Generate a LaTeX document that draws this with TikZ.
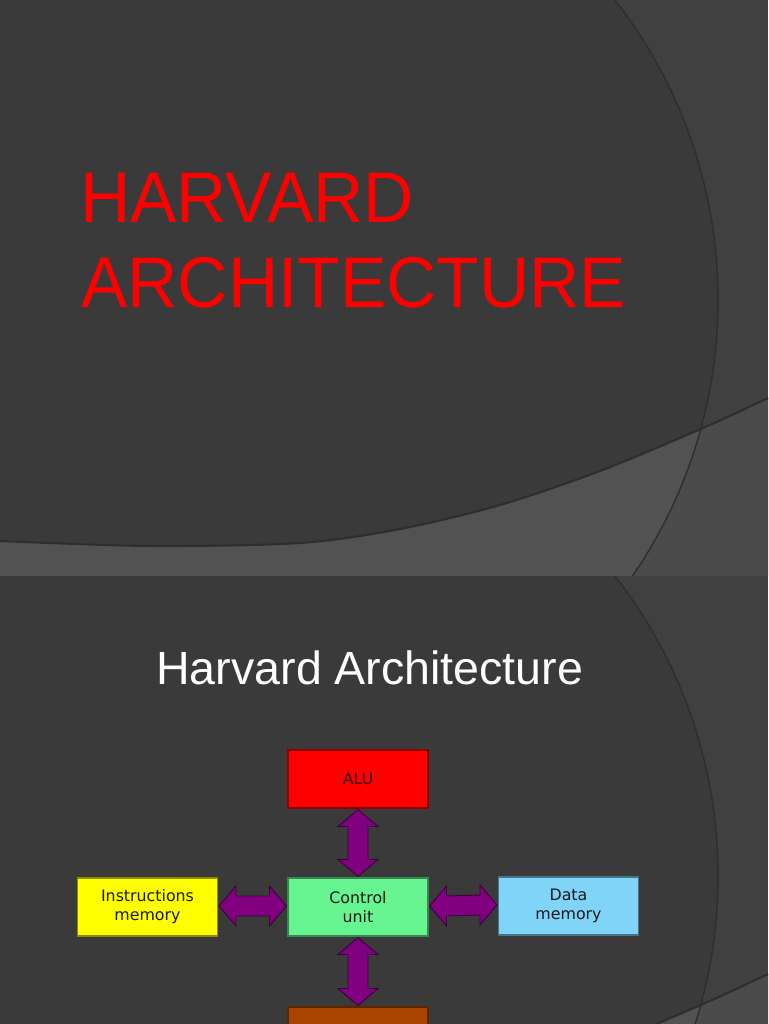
\documentclass[tikz,border=0pt]{standalone}
\usepackage{fontspec}
\setmainfont{Liberation Sans}
\newfontfamily\titlefont[FakeStretch=0.97]{Liberation Sans}
\newfontfamily\boxfont{DejaVu Sans}
\usetikzlibrary{calc}

\definecolor{slidebg}{HTML}{3A3A3A}
\definecolor{slideside}{HTML}{404040}
\definecolor{bandleft}{HTML}{525252}
\definecolor{bandright}{HTML}{4B4B4B}
\definecolor{edgedark}{HTML}{2E2E2E}
\definecolor{alured}{HTML}{FF0000}
\definecolor{ctrlgreen}{HTML}{66F590}
\definecolor{instryellow}{HTML}{FFFF00}
\definecolor{datablue}{HTML}{80D4F8}
\definecolor{iobrown}{HTML}{A84400}
\definecolor{buspurple}{HTML}{800080}

% lower edge of the light band on each slide
\newcommand{\bandpts}{(0,541) (150,546) (300,543) (400,529) (500,505) (600,471) (703,428) (768,398)}

\tikzset{
  unitbox/.style={rectangle, draw=#1!55!black, line width=0.6pt, fill=#1,
    minimum width=2.8cm, minimum height=1.16cm, inner sep=0pt, align=center,
    font=\boxfont\fontsize{9}{10.8}\selectfont, text=black!90},
  fatarrow/.style={fill=buspurple, draw=buspurple!45!black, line width=0.5pt},
  bigtitle/.style={anchor=base west, inner sep=0pt, text=red,
    font=\titlefont\fontsize{40.8}{48}\selectfont},
  subtitle/.style={anchor=base west, inner sep=0pt, text=white,
    font=\fontsize{26.5}{31}\selectfont},
}

\begin{document}
\begin{tikzpicture}[x=0.02cm, y=-0.02cm]
  \useasboundingbox (0,0) rectangle (768,1024);
  \clip (0,0) rectangle (768,1024);

  % the two slide backgrounds
  \foreach \s in {0,576} {
    \begin{scope}[shift={(0,\s)}]
      \clip (0,0) rectangle (768,576);
      \fill[slideside] (0,0) rectangle (768,576);
      \fill[slidebg] (230,300) circle[radius=488];
      \fill[bandright] plot[smooth] coordinates {\bandpts} -- (768,576) -- (0,576) -- cycle;
      \begin{scope}
        \clip (230,300) circle[radius=488];
        \fill[bandleft] plot[smooth] coordinates {\bandpts} -- (768,576) -- (0,576) -- cycle;
      \end{scope}
      \draw[edgedark, line width=0.8pt] (230,300) circle[radius=488];
      \draw[edgedark, line width=1.2pt] plot[smooth] coordinates {\bandpts};
    \end{scope}
  }

  % slide 1
  \node[bigtitle] (title1) at (80,222) {HARVARD};
  \node[bigtitle] (title2) at (81,307) {ARCHITECTURE};

  % slide 2
  \node[subtitle] (heading) at (156,684) {Harvard Architecture};

  \node[unitbox=alured, text=black!80!red] (alu) at (358,779) {ALU};
  \node[unitbox=ctrlgreen] (ctrl) at (358,907) {Control\\unit};
  \node[unitbox=instryellow] (instr) at (147.5,907) {Instructions\\memory};
  \node[unitbox=datablue] (data) at (568.5,906) {Data\\memory};
  \node[unitbox=iobrown] (io) at (358,1036) {};

  % buses
  \foreach \p/\q in {alu/ctrl, ctrl/io}
    \draw[fatarrow] ($(\p.south)+(0,1)$) -- ++(20,17) -- ++(-10,0)
      -- ($(\q.north)+(10,-18)$) -- ++(10,0) -- ($(\q.north)+(0,-1)$)
      -- ++(-20,-17) -- ++(10,0) -- ($(\p.south)+(-10,18)$) -- ++(-10,0) -- cycle;
  \foreach \p/\q in {instr/ctrl, ctrl/data}
    \draw[fatarrow] ($(\p.east)+(1,-1)$) -- ++(17,-20) -- ++(0,10)
      -- ($(\q.west)+(-18,-11)$) -- ++(0,-10) -- ($(\q.west)+(-1,-1)$)
      -- ++(-17,20) -- ++(0,-10) -- ($(\p.east)+(18,9)$) -- ++(0,10) -- cycle;
\end{tikzpicture}
\end{document}
